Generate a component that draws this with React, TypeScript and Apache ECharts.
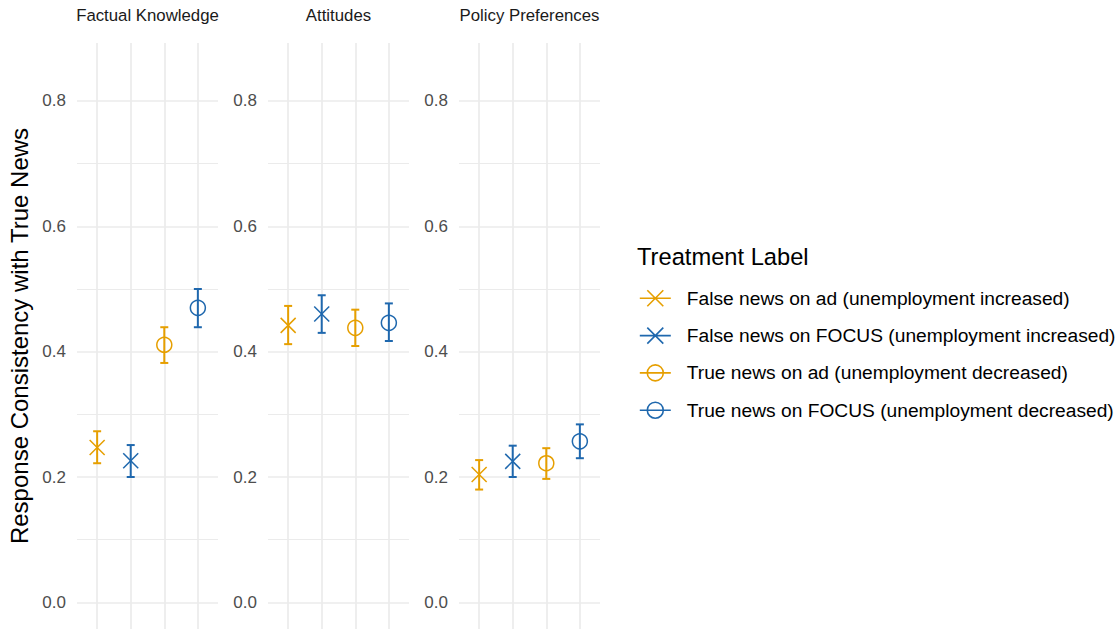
import React, { useEffect, useRef } from 'react';
import * as echarts from 'echarts';

const FONT = "'Liberation Sans', Arial, Helvetica, sans-serif";

const panels = ['Factual Knowledge', 'Attitudes', 'Policy Preferences'];
const treatments = [
  'False news on ad (unemployment increased)',
  'False news on FOCUS (unemployment increased)',
  'True news on ad (unemployment decreased)',
  'True news on FOCUS (unemployment decreased)',
];
const treatmentColors = ['#E69F00', '#1F68AE', '#E69F00', '#1F68AE'];
const treatmentShapes = ['cross', 'cross', 'circle', 'circle'];

// Estimates and 95% interval bounds per panel, in treatment order
const factualEst = [0.247, 0.226, 0.411, 0.47];
const factualLo = [0.222, 0.2, 0.382, 0.439];
const factualHi = [0.273, 0.251, 0.439, 0.5];
const attitudesEst = [0.442, 0.46, 0.438, 0.446];
const attitudesLo = [0.412, 0.43, 0.409, 0.417];
const attitudesHi = [0.473, 0.49, 0.467, 0.477];
const policyEst = [0.204, 0.225, 0.222, 0.257];
const policyLo = [0.18, 0.2, 0.197, 0.23];
const policyHi = [0.227, 0.25, 0.246, 0.284];

const yMajorTicks = [0, 0.2, 0.4, 0.6, 0.8];
const yMinorTicks = [0.1, 0.3, 0.5, 0.7];
const xPositions = [0, 1, 2, 3];

const panelData = [
  { est: factualEst, lo: factualLo, hi: factualHi },
  { est: attitudesEst, lo: attitudesLo, hi: attitudesHi },
  { est: policyEst, lo: policyLo, hi: policyHi },
];

const gridLefts = [77, 268, 459];
const GRID_W = 141;
const GRID_TOP = 43;
const GRID_H = 586;
const Y_MIN = -0.0425;
const Y_MAX = 0.8925;
const GRID_COLOR = '#EBEBEB';

const crossIcon = 'path://M0 8L31 8M7.5 0L23.5 16M23.5 0L7.5 16M42 8';
const circleIcon = 'path://M0 8L31 8M23.5 8A8 8 0 1 1 7.5 8A8 8 0 1 1 23.5 8M42 8';

function makeRenderItem(shape: string) {
  return (params: any, api: any) => {
    const x = api.value(0);
    const c = api.coord([x, api.value(1)]);
    const lo = api.coord([x, api.value(2)]);
    const hi = api.coord([x, api.value(3)]);
    const color = api.visual('color');
    const barStyle = { stroke: color, lineWidth: 2, fill: 'none' };
    const markStyle = { stroke: color, lineWidth: 1.5, fill: 'none' };
    const children: any[] = [
      { type: 'line', shape: { x1: c[0], y1: hi[1], x2: c[0], y2: lo[1] }, style: barStyle },
      { type: 'line', shape: { x1: c[0] - 4, y1: hi[1], x2: c[0] + 4, y2: hi[1] }, style: barStyle },
      { type: 'line', shape: { x1: c[0] - 4, y1: lo[1], x2: c[0] + 4, y2: lo[1] }, style: barStyle },
    ];
    if (shape === 'cross') {
      const h = 7.5;
      children.push(
        { type: 'line', shape: { x1: c[0] - h, y1: c[1] - h, x2: c[0] + h, y2: c[1] + h }, style: markStyle },
        { type: 'line', shape: { x1: c[0] - h, y1: c[1] + h, x2: c[0] + h, y2: c[1] - h }, style: markStyle }
      );
    } else {
      children.push({ type: 'circle', shape: { cx: c[0], cy: c[1], r: 7.5 }, style: markStyle });
    }
    return { type: 'group', children };
  };
}

export default function App() {
  const ref = useRef<HTMLDivElement>(null);

  useEffect(() => {
    if (!ref.current) return;
    const chart = echarts.init(ref.current, undefined, { renderer: 'svg' });

    const grids = gridLefts.map((left) => ({ left, top: GRID_TOP, width: GRID_W, height: GRID_H }));
    const xAxes = gridLefts.map((_, i) => ({
      type: 'value',
      gridIndex: i,
      min: -0.6,
      max: 3.6,
      show: false,
    }));
    const yAxes = gridLefts.map((_, i) => ({
      type: 'value',
      gridIndex: i,
      min: Y_MIN,
      max: Y_MAX,
      axisLine: { show: false },
      axisTick: { show: false, customValues: yMajorTicks },
      splitLine: { show: false },
      axisLabel: {
        customValues: yMajorTicks,
        formatter: (v: number) => v.toFixed(1),
        color: '#4D4D4D',
        fontSize: 17,
        fontFamily: FONT,
        margin: 11,
      },
      ...(i === 0
        ? {
            name: 'Response Consistency with True News',
            nameLocation: 'middle',
            nameGap: 46,
            nameRotate: 90,
            nameTextStyle: { fontSize: 24, color: '#000', fontFamily: FONT },
          }
        : {}),
    }));

    const series: any[] = [];
    panelData.forEach((pd, p) => {
      series.push({
        type: 'line',
        name: 'grid' + p,
        xAxisIndex: p,
        yAxisIndex: p,
        data: [],
        silent: true,
        z: 1,
        markLine: {
          silent: true,
          symbol: ['none', 'none'],
          label: { show: false },
          emphasis: { disabled: true },
          lineStyle: { color: GRID_COLOR, type: 'solid', width: 1.7 },
          data: [
            ...yMinorTicks.map((v) => ({ yAxis: v, lineStyle: { color: GRID_COLOR, type: 'solid', width: 1.1 } })),
            ...yMajorTicks.map((v) => ({ yAxis: v })),
            ...xPositions.map((v) => ({ xAxis: v })),
          ],
        },
      });
      treatments.forEach((t, k) => {
        series.push({
          type: 'custom',
          name: t,
          xAxisIndex: p,
          yAxisIndex: p,
          z: 5,
          itemStyle: { color: treatmentColors[k] },
          encode: { x: 0, y: [1, 2, 3] },
          data: [[xPositions[k], pd.est[k], pd.lo[k], pd.hi[k]]],
          renderItem: makeRenderItem(treatmentShapes[k]),
        });
      });
    });

    const option: any = {
      animation: false,
      backgroundColor: '#FFFFFF',
      textStyle: { fontFamily: FONT },
      grid: grids,
      xAxis: xAxes,
      yAxis: yAxes,
      legend: {
        orient: 'vertical',
        left: 639,
        top: 288.3,
        padding: 0,
        itemWidth: 42,
        itemHeight: 16,
        itemGap: 17.3,
        selectedMode: false,
        textStyle: { fontSize: 19.2, color: '#000', fontFamily: FONT, lineHeight: 20 },
        data: treatments.map((name, i) => ({
          name,
          icon: treatmentShapes[i] === 'cross' ? crossIcon : circleIcon,
          itemStyle: { color: 'rgba(0,0,0,0)', borderColor: treatmentColors[i], borderWidth: 1.6 },
        })),
      },
      graphic: [
        ...panels.map((p, i) => ({
          type: 'text',
          x: gridLefts[i] + GRID_W / 2,
          y: 15,
          silent: true,
          style: {
            text: p,
            fontSize: 16.8,
            fontFamily: FONT,
            fill: '#1A1A1A',
            align: 'center',
            verticalAlign: 'middle',
          },
        })),
        {
          type: 'text',
          x: 637,
          y: 257,
          silent: true,
          style: {
            text: 'Treatment Label',
            fontSize: 23.7,
            fontFamily: FONT,
            fill: '#000',
            align: 'left',
            verticalAlign: 'middle',
          },
        },
      ],
      series,
    };

    chart.setOption(option);
    return () => chart.dispose();
  }, []);

  return (
    <div
      ref={ref}
      style={{ position: 'fixed', left: 0, top: 0, width: 1120, height: 630, background: '#fff' }}
    />
  );
}
